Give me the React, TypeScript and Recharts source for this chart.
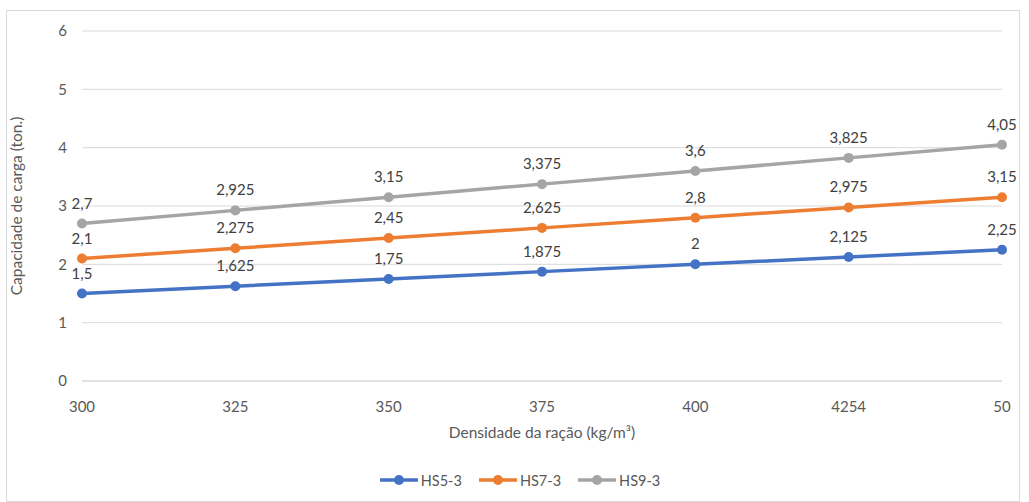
import React from 'react';
import { LineChart, Line, XAxis, YAxis, CartesianGrid, LabelList, Label, Legend } from 'recharts';

const categories = ['300', '325', '350', '375', '400', '4254', '50'];
const hs5 = [1.5, 1.625, 1.75, 1.875, 2, 2.125, 2.25];
const hs7 = [2.1, 2.275, 2.45, 2.625, 2.8, 2.975, 3.15];
const hs9 = [2.7, 2.925, 3.15, 3.375, 3.6, 3.825, 4.05];
const yTicks = [0, 1, 2, 3, 4, 5, 6];

const series = [
    { key: 'HS5-3', color: '#4472C4' },
    { key: 'HS7-3', color: '#ED7D31' },
    { key: 'HS9-3', color: '#A5A5A5' },
];

const data = categories.map((c, i) => ({
    cat: c,
    'HS5-3': hs5[i],
    'HS7-3': hs7[i],
    'HS9-3': hs9[i],
}));

const FONT = 'Lato, "Open Sans", sans-serif';
const TEXT = '#595959';

const fmt = (v: any) => String(v).replace('.', ',');

const LegendBox = () => (
    <div
        style={{
            display: 'flex',
            justifyContent: 'center',
            gap: 17,
            fontFamily: FONT,
            fontSize: 14.5,
            color: TEXT,
            height: 18,
            paddingLeft: 16,
        }}
    >
        {series.map((s) => (
            <div key={s.key} style={{ display: 'flex', alignItems: 'center' }}>
                <svg width={38} height={12} style={{ marginRight: 3 }}>
                    <line x1={0} y1={6} x2={38} y2={6} stroke={s.color} strokeWidth={3.5} />
                    <circle cx={19} cy={6} r={5} fill={s.color} />
                </svg>
                <span>{s.key}</span>
            </div>
        ))}
    </div>
);

export default function App() {
    return (
        <div style={{ position: 'absolute', left: 0, top: 0, width: 1029, height: 502, background: '#fff' }}>
            <div
                style={{
                    position: 'absolute',
                    left: 6,
                    top: 10,
                    width: 1014,
                    height: 492,
                    border: '1px solid #d9d9d9',
                    boxSizing: 'border-box',
                }}
            />
            <LineChart
                width={1029}
                height={502}
                data={data}
                margin={{ top: 31, right: 27, bottom: 73, left: 22 }}
                style={{ position: 'absolute', left: 0, top: 0, fontFamily: FONT }}
            >
                <CartesianGrid vertical={false} stroke="#d9d9d9" strokeWidth={1} />
                <XAxis
                    dataKey="cat"
                    height={30}
                    axisLine={{ stroke: '#d9d9d9' }}
                    tickLine={false}
                    tickMargin={14}
                    tick={{ fill: TEXT, fontSize: 15 }}
                    padding={{ left: 0, right: 0 }}
                    interval={0}
                >
                    <Label
                        content={() => (
                            <text x={542} y={438} textAnchor="middle" fill={TEXT} fontSize={15.5} fontFamily={FONT}>
                                Densidade da ração (kg/m³)
                            </text>
                        )}
                    />
                </XAxis>
                <YAxis
                    width={60}
                    domain={[0, 6]}
                    ticks={yTicks}
                    axisLine={false}
                    tickLine={false}
                    tickMargin={9}
                    tick={{ fill: TEXT, fontSize: 15 }}
                >
                    <Label
                        content={() => (
                            <text
                                x={22}
                                y={206}
                                transform="rotate(-90 22 206)"
                                textAnchor="middle"
                                fill={TEXT}
                                fontSize={15.5}
                                fontFamily={FONT}
                            >
                                Capacidade de carga (ton.)
                            </text>
                        )}
                    />
                </YAxis>
                <Legend verticalAlign="bottom" wrapperStyle={{ bottom: 13 }} content={() => <LegendBox />} />
                {series.map((s) => (
                    <Line
                        key={s.key}
                        type="linear"
                        dataKey={s.key}
                        stroke={s.color}
                        strokeWidth={3.5}
                        dot={{ r: 5, fill: s.color, stroke: s.color, strokeWidth: 0 }}
                        activeDot={false}
                        isAnimationActive={false}
                    >
                        <LabelList dataKey={s.key} position="top" offset={15} formatter={fmt} fill="#404040" fontSize={15} />
                    </Line>
                ))}
            </LineChart>
        </div>
    );
}
